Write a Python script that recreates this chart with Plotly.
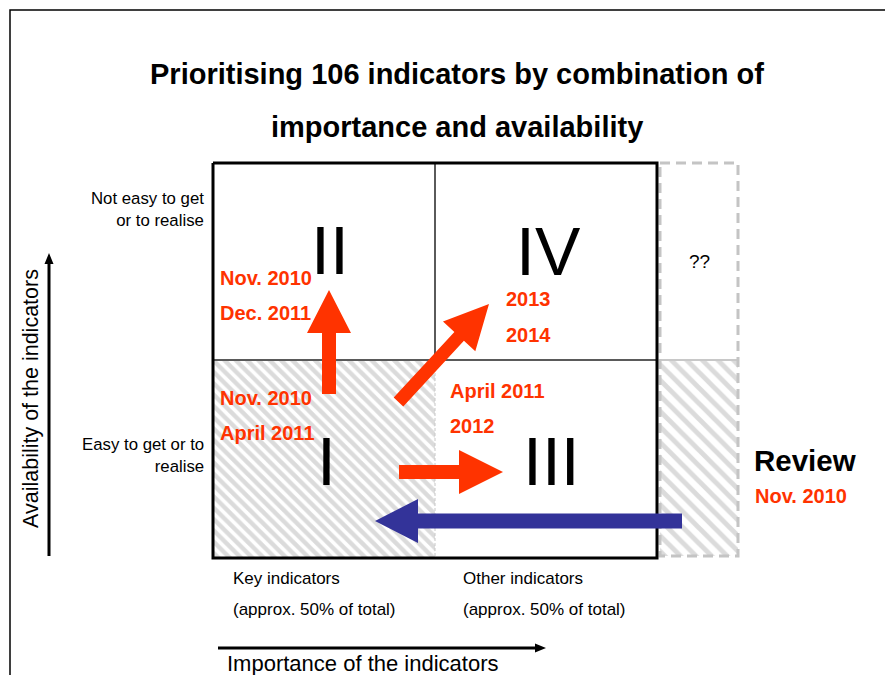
import plotly.graph_objects as go

# ---------------- data (diagram content) ----------------
TITLE_LINES = ["Prioritising 106 indicators by combination of",
               "importance and availability"]

# Grid of the 2x2 matrix (importance: key | other ; availability: easy | not easy)
GRID_X = [213, 435, 657]          # left, middle, right
GRID_Y = [163, 360, 558]          # top, middle, bottom
REVIEW_BOX_X = [660, 738]
REVIEW_BOX_Y = [163, 360, 556]

NUMERALS = ["I", "II", "III", "IV"]
NUMERAL_X = [326, 330, 551, 548]
NUMERAL_Y = [461, 250, 461, 251]

DATE_LABELS = ["Nov. 2010", "Dec. 2011", "2013", "2014", "Nov. 2010",
               "April 2011", "April 2011", "2012", "Nov. 2010"]
DATE_X = [218, 218, 504, 504, 218, 218, 448, 448, 753]
DATE_Y = [278, 313, 299, 335, 398, 433, 391, 426, 496]

ROW_LABELS = ["Not easy to get<br>or to realise", "Easy to get or to<br>realise"]
ROW_LABEL_Y = [209, 455]
COL_LABELS = ["Key indicators", "Other indicators"]
COL_LABEL_X = [231, 461]
COL_SUB = "(approx. 50% of total)"

# block arrows: tail, tip, shaft width, head width, head length, colour
ARROW_TAIL = [(329, 394), (398.5, 402), (399, 472), (682, 521)]
ARROW_TIP = [(329, 290), (489, 304), (503, 472), (375, 521)]
ARROW_SHAFT = [14, 13, 14, 15]
ARROW_HEAD_W = [44, 44, 44, 44]
ARROW_HEAD_L = [43, 44, 44, 43]
ARROW_COLOR = ["#FF3300", "#FF3300", "#FF3300", "#333399"]

# axis arrows
AXIS_ARROW_TAIL = [(218, 648), (49, 556)]
AXIS_ARROW_TIP = [(546, 648), (49, 253)]

RED = "#FF3300"
FONT = "Arial, 'Liberation Sans', sans-serif"

W, H = 885, 675


def block_arrow(tail, tip, sw, hw, hl):
    tx, ty = tail
    px, py = tip
    dx, dy = px - tx, py - ty
    L = (dx * dx + dy * dy) ** 0.5
    ux, uy = dx / L, dy / L
    nx, ny = -uy, ux
    bx, by = px - ux * hl, py - uy * hl
    pts = [
        (tx + nx * sw / 2, ty + ny * sw / 2),
        (bx + nx * sw / 2, by + ny * sw / 2),
        (bx + nx * hw / 2, by + ny * hw / 2),
        (px, py),
        (bx - nx * hw / 2, by - ny * hw / 2),
        (bx - nx * sw / 2, by - ny * sw / 2),
        (tx - nx * sw / 2, ty - ny * sw / 2),
        (tx + nx * sw / 2, ty + ny * sw / 2),
    ]
    return [p[0] for p in pts], [p[1] for p in pts]


def rect(x0, x1, y0, y1):
    return [x0, x1, x1, x0, x0], [y0, y0, y1, y1, y0]


fig = go.Figure()

# hatched quadrant I
hx, hy = rect(GRID_X[0], GRID_X[1], GRID_Y[1], GRID_Y[2])
fig.add_trace(go.Scatter(x=hx, y=hy, mode="lines", fill="toself",
                         fillcolor="white",
                         fillpattern=dict(shape="\\", fgcolor="#B8B8B8", bgcolor="white",
                                          size=8, solidity=0.55),
                         line=dict(color="#C8C8C8", width=1, dash="3px,2px"),
                         hoverinfo="skip"))
# hatched lower part of review box
rx, ry = rect(REVIEW_BOX_X[0], REVIEW_BOX_X[1], REVIEW_BOX_Y[1], REVIEW_BOX_Y[2])
fig.add_trace(go.Scatter(x=rx, y=ry, mode="none", fill="toself",
                         fillcolor="white",
                         fillpattern=dict(shape="\\", fgcolor="#B8B8B8", bgcolor="white",
                                          size=11, solidity=0.45),
                         hoverinfo="skip"))
# review box divider and dashed outline
fig.add_trace(go.Scatter(x=[REVIEW_BOX_X[0], REVIEW_BOX_X[1]], y=[REVIEW_BOX_Y[1]] * 2,
                         mode="lines", line=dict(color="#C8C8C8", width=2), hoverinfo="skip"))
bx_, by_ = rect(REVIEW_BOX_X[0], REVIEW_BOX_X[1], REVIEW_BOX_Y[0], REVIEW_BOX_Y[2])
fig.add_trace(go.Scatter(x=bx_, y=by_, mode="lines",
                         line=dict(color="#C4C4C4", width=3, dash="10px,6px"), hoverinfo="skip"))

# inner grid lines
fig.add_trace(go.Scatter(x=[GRID_X[1], GRID_X[1]], y=[GRID_Y[0], GRID_Y[1]], mode="lines",
                         line=dict(color="#5A5A5A", width=2), hoverinfo="skip"))
fig.add_trace(go.Scatter(x=[GRID_X[0], GRID_X[2]], y=[GRID_Y[1], GRID_Y[1]], mode="lines",
                         line=dict(color="#5A5A5A", width=2), hoverinfo="skip"))
# outer box
ox, oy = rect(GRID_X[0], GRID_X[2], GRID_Y[0], GRID_Y[2])
fig.add_trace(go.Scatter(x=ox, y=oy, mode="lines", line=dict(color="black", width=3),
                         hoverinfo="skip"))

# page frame (left and top)
fig.add_trace(go.Scatter(x=[10, 10, W], y=[H, 10, 10], mode="lines",
                         line=dict(color="black", width=1.5), hoverinfo="skip"))

# block arrows
for t, p, sw, hw, hl, c in zip(ARROW_TAIL, ARROW_TIP, ARROW_SHAFT, ARROW_HEAD_W,
                               ARROW_HEAD_L, ARROW_COLOR):
    ax_, ay_ = block_arrow(t, p, sw, hw, hl)
    fig.add_trace(go.Scatter(x=ax_, y=ay_, mode="none", fill="toself", fillcolor=c,
                             hoverinfo="skip"))

# axis arrows
for t, p in zip(AXIS_ARROW_TAIL, AXIS_ARROW_TIP):
    ax_, ay_ = block_arrow(t, p, 3, 9, 11)
    fig.add_trace(go.Scatter(x=ax_, y=ay_, mode="none", fill="toself", fillcolor="black",
                             hoverinfo="skip"))

ann = []
# title
for i, line in enumerate(TITLE_LINES):
    ann.append(dict(x=457, y=[74, 127][i], text="<b>" + line + "</b>", showarrow=False,
                    xanchor="center", yanchor="middle",
                    font=dict(family=FONT, size=29, color="black")))
# numerals
for t, x, y in zip(NUMERALS, NUMERAL_X, NUMERAL_Y):
    ann.append(dict(x=x, y=y, text=t, showarrow=False, xanchor="center", yanchor="middle",
                    font=dict(family=FONT, size=68, color="black")))
# dates
for t, x, y in zip(DATE_LABELS, DATE_X, DATE_Y):
    ann.append(dict(x=x, y=y, text="<b>" + t + "</b>", showarrow=False, xanchor="left",
                    yanchor="middle", font=dict(family=FONT, size=20, color=RED)))
# review
ann.append(dict(x=752, y=460, text="<b>Review</b>", showarrow=False, xanchor="left",
                yanchor="middle", font=dict(family=FONT, size=29.5, color="black")))
# ??
ann.append(dict(x=699, y=261, text="??", showarrow=False, xanchor="center", yanchor="middle",
                font=dict(family=FONT, size=19, color="black")))
# row labels
for t, y in zip(ROW_LABELS, ROW_LABEL_Y):
    ann.append(dict(x=206, y=y, text=t, showarrow=False, xanchor="right", yanchor="middle",
                    align="right", font=dict(family=FONT, size=16.8, color="black")))
# column labels
for t, x in zip(COL_LABELS, COL_LABEL_X):
    ann.append(dict(x=x, y=578, text=t, showarrow=False, xanchor="left", yanchor="middle",
                    font=dict(family=FONT, size=17, color="black")))
    ann.append(dict(x=x, y=609, text=COL_SUB, showarrow=False, xanchor="left",
                    yanchor="middle", font=dict(family=FONT, size=17, color="black")))
# axis titles
ann.append(dict(x=225, y=663, text="Importance of the indicators", showarrow=False,
                xanchor="left", yanchor="middle",
                font=dict(family=FONT, size=22, color="black")))
ann.append(dict(x=31, y=399, text="Availability of the indicators", showarrow=False,
                textangle=-90, xanchor="center", yanchor="middle",
                font=dict(family=FONT, size=21.5, color="black")))

fig.update_layout(
    width=W, height=H, margin=dict(l=0, r=0, t=0, b=0),
    paper_bgcolor="white", plot_bgcolor="white", showlegend=False,
    xaxis=dict(range=[0, W], visible=False, fixedrange=True),
    yaxis=dict(range=[H, 0], visible=False, fixedrange=True),
    annotations=ann,
)

fig.write_html("out.html", config={"displayModeBar": False},
               post_script="document.body.style.margin='0';")
